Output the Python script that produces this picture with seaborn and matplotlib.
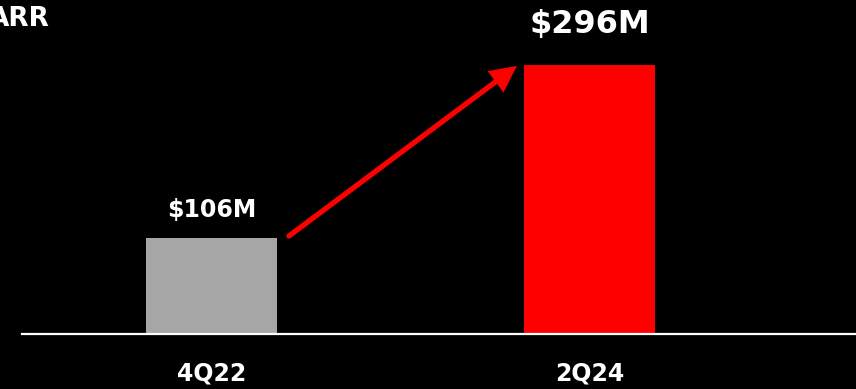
import matplotlib
matplotlib.use("Agg")
import matplotlib.pyplot as plt
import seaborn as sns
import pandas as pd

categories = ["4Q22", "2Q24"]
values = [106, 296]
value_labels = ["$106M", "$296M"]
colors = ["#A6A6A6", "#FF0000"]

sns.set_style("dark")
plt.rcParams['font.family'] = ['DejaVu Sans']

df = pd.DataFrame({"period": categories, "arr": values})

fig = plt.figure(figsize=(8.56, 3.89), dpi=100, facecolor="black")
ax = fig.add_axes([22/856, 55/389, 834/856, 334/389])
ax.set_facecolor("black")

sns.barplot(data=df, x="period", y="arr", hue="period", palette=colors,
            width=0.3466, legend=False, ax=ax, saturation=1, linewidth=0,
            edgecolor="none")

ax.set_xlim(-0.501, 1.705)
ax.set_ylim(0, 367.5)
ax.set_xlabel("")
ax.set_ylabel("")
ax.set_yticks([])
ax.grid(False)
ax.tick_params(axis="x", length=0, pad=28.8, labelsize=17, labelcolor="white")
for lbl in ax.get_xticklabels():
    lbl.set_fontweight("bold")
    lbl.set_verticalalignment("center")
for s in ["top", "left", "right"]:
    ax.spines[s].set_visible(False)
ax.spines["bottom"].set_color("white")
ax.spines["bottom"].set_linewidth(1.6)

# value labels
ax.text(0, values[0] + 30.4, value_labels[0], ha="center", va="center",
        color="white", fontsize=17, fontweight="bold")
ax.text(1, values[1] + 44, value_labels[1], ha="center", va="center",
        color="white", fontsize=23, fontweight="bold")

# growth arrow
ax.annotate("", xy=(0.808, 295), xytext=(0.205, 107.8),
            arrowprops=dict(arrowstyle="-|>,head_length=1.0,head_width=0.5",
                            mutation_scale=13, color="#FF0000", lw=3.8,
                            shrinkA=0, shrinkB=0, joinstyle="miter"))

fig.text(50/856, 1 - 19/389, "ARR", ha="right", va="center", color="white",
         fontsize=19, fontweight="bold")

fig.savefig("out.png", dpi=100, facecolor="black")
